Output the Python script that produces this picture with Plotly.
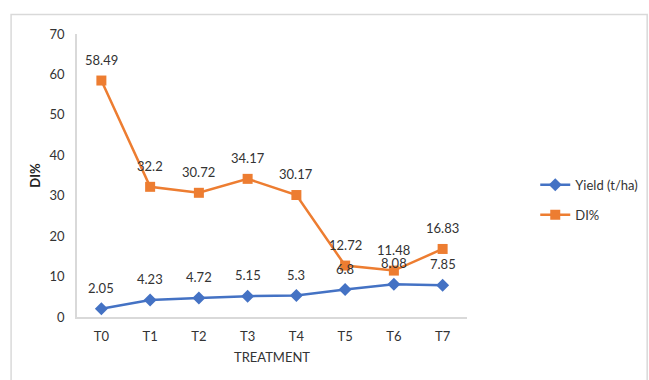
import plotly.graph_objects as go

categories = ["T0", "T1", "T2", "T3", "T4", "T5", "T6", "T7"]
yield_vals = [2.05, 4.23, 4.72, 5.15, 5.3, 6.8, 8.08, 7.85]
di_vals = [58.49, 32.2, 30.72, 34.17, 30.17, 12.72, 11.48, 16.83]

BLUE = "#4472C4"
ORANGE = "#ED7D31"
FONT = "Lato, Liberation Sans, sans-serif"
TXT = "#333333"

fig = go.Figure()
fig.add_trace(go.Scatter(x=categories, y=yield_vals, name="Yield (t/ha)", mode="lines+markers",
                         line=dict(color=BLUE, width=2.5),
                         marker=dict(symbol="diamond", size=10, color=BLUE),
                         legendgroup="a"))
fig.add_trace(go.Scatter(x=categories, y=di_vals, name="DI%", mode="lines+markers",
                         line=dict(color=ORANGE, width=2.5),
                         marker=dict(symbol="square", size=10, color=ORANGE),
                         legendgroup="b"))

annotations = []
for vals in (yield_vals, di_vals):
    for c, v in zip(categories, vals):
        annotations.append(dict(x=c, y=v, text=str(v), showarrow=False, yanchor="bottom",
                                yshift=11, font=dict(family=FONT, size=13, color=TXT)))

fig.update_layout(
    width=649, height=380,
    margin=dict(l=77, r=182, t=34, b=63, autoexpand=False),
    paper_bgcolor="white", plot_bgcolor="white",
    font=dict(family=FONT, size=13, color=TXT),
    annotations=annotations,
    legend=dict(x=1.175, y=0.52, xanchor="left", yanchor="top", tracegroupgap=10,
                font=dict(family=FONT, size=13, color=TXT)),
    shapes=[dict(type="rect", xref="paper", yref="paper", x0=-0.169, x1=1.462, y0=-0.25, y1=1.069,
                 line=dict(color="#D9D9D9", width=1.5), layer="below")],
    xaxis=dict(type="category", range=[-0.5, 7.5], showgrid=False, showline=True, automargin=False,
               linecolor="#D9D9D9", linewidth=1.5, ticks="", ticklabelstandoff=7,
               title=dict(text="TREATMENT", standoff=10, font=dict(family=FONT, size=13, color=TXT)),
               zeroline=False),
    yaxis=dict(range=[0, 70], dtick=10, showgrid=False, showline=True, automargin=False,
               linecolor="#D9D9D9", linewidth=1.5, ticks="", ticklabelstandoff=8,
               title=dict(text="<b>DI%</b>", standoff=6, font=dict(family=FONT, size=13, color="#222")),
               zeroline=False),
)

fig.write_html("out.html")
